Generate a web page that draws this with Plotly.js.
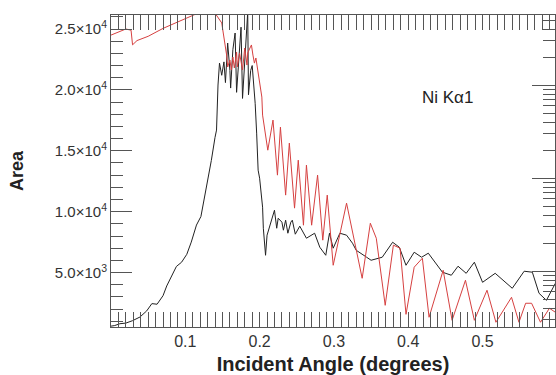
<!DOCTYPE html>
<html>
<head>
<meta charset="utf-8">
<script src="https://cdn.plot.ly/plotly-3.0.1.min.js"></script>
<style>html,body{margin:0;padding:0;background:#fff;}#chart{width:556px;height:375px;}</style>
</head>
<body>
<div id="chart"></div>
<script>
// Ni K-alpha1 fluorescence (black)
const fluorAngle = [0.000,0.005,0.012,0.020,0.029,0.039,0.048,0.055,0.062,0.070,0.075,0.083,0.088,0.095,0.102,0.108,0.115,0.121,0.126,0.130,0.135,0.140,0.142,
  0.144,0.146,0.149,0.152,0.154,0.157,0.160,0.161,0.164,0.167,0.169,0.172,0.175,0.177,0.180,0.183,0.184,0.185,0.188,0.190,0.194,0.196,
  0.198,0.200,0.204,0.205,0.208,0.210,0.213,0.218,0.220,0.223,0.225,0.230,0.232,0.235,0.238,0.242,0.244,0.248,0.254,0.263,0.274,0.281,0.289,0.294,0.299,
  0.308,0.317,0.325,0.330,0.344,0.350,0.365,0.379,0.388,0.397,0.408,0.418,0.427,0.446,0.458,0.467,0.478,0.489,0.500,0.517,0.540,0.556,0.567,0.576,0.586,0.598];
const fluorArea = [600,650,800,850,1050,1350,1850,2450,2400,3100,3900,4900,5500,5850,6500,7500,8900,9600,11200,12600,14200,16100,16700,
  20400,22200,21200,22300,20600,23850,21600,20150,23300,24670,19800,22450,25150,19300,22450,26000,26400,19600,21600,22000,18900,16450,
  13410,12750,10370,8640,6420,8070,8640,9710,10120,8640,9460,9140,8480,9300,8230,9140,9300,8150,8810,7820,8230,7080,6420,8230,7000,
  8230,8070,7410,6830,6260,6010,6260,7490,7080,5600,6670,6260,6590,5030,4780,5520,4940,5850,4200,4940,3710,5110,5030,3300,2720,4120];

// Reflectivity curve (red)
const reflAngle = [0.000,0.010,0.020,0.027,0.029,0.035,0.050,0.070,0.090,0.105,0.115,0.130,0.140,0.149,0.153,
  0.156,0.157,0.160,0.162,0.164,0.166,0.169,0.170,0.173,0.177,0.180,0.183,0.184,0.187,0.189,0.191,0.193,0.195,0.197,0.200,0.203,
  0.204,0.211,0.218,0.224,0.228,0.235,0.240,0.247,0.252,0.259,0.263,0.270,0.278,0.285,0.291,0.299,0.317,0.338,0.349,0.357,0.369,
  0.380,0.389,0.397,0.408,0.419,0.428,0.447,0.459,0.477,0.489,0.506,0.518,0.539,0.549,0.558,0.566,0.578,0.590,0.598];
const reflArea = [24500,24750,25000,24900,23700,24050,24400,25050,25600,26000,26250,26350,26300,25500,24100,
  22700,21880,22450,21630,22700,21800,23100,21880,23030,21630,23440,22040,23030,23440,23690,22860,22200,22620,21880,20810,19410,
  17930,15050,17520,13000,16940,11360,15630,10290,14230,8890,13820,8890,13000,7660,11360,5600,10700,4530,9050,7820,2310,
  7250,7000,1570,5440,6180,1330,5190,1080,4370,1080,3550,920,2970,920,2480,2480,920,2070,1740];

const xTickVals = [0.1,0.2,0.3,0.4,0.5];
const xTickText = ['0.1','0.2','0.3','0.4','0.5'];
const yTickVals = [5000,10000,15000,20000,25000];
const yTickText = ['5.0×10<sup>3</sup>','1.0×10<sup>4</sup>','1.5×10<sup>4</sup>','2.0×10<sup>4</sup>','2.5×10<sup>4</sup>'];
const y2TickVals = [10,100,1000];
const y2MinorVals = [3,4,5,6,7,8,9,20,30,40,50,60,70,80,90,200,300,400,500,600,700,800,900,2000,3000,4000,5000];

const axColor = '#555';
const fontFam = 'Liberation Sans, Arial, sans-serif';

const traces = [
  {x: fluorAngle, y: fluorArea, mode: 'lines', line: {color: '#222', width: 1}, hoverinfo: 'skip'},
  {x: reflAngle, y: reflArea, mode: 'lines', line: {color: '#d64040', width: 1}, hoverinfo: 'skip'},
  {x: [], y: [], yaxis: 'y2', mode: 'lines', hoverinfo: 'skip'}
];

const layout = {
  width: 556, height: 375,
  margin: {l: 111, r: 1, t: 15, b: 48, pad: 0},
  paper_bgcolor: '#fff', plot_bgcolor: '#fff',
  showlegend: false,
  font: {family: fontFam, color: '#333'},
  xaxis: {
    range: [0, 0.5975], showgrid: false, zeroline: false,
    showline: true, linecolor: axColor, linewidth: 1, mirror: 'allticks',
    tickmode: 'array', tickvals: xTickVals, ticktext: xTickText,
    ticks: 'inside', ticklen: 15, tickwidth: 1, tickcolor: axColor,
    minor: {dtick: 0.01, tick0: 0, ticks: 'inside', ticklen: 7, tickwidth: 1, tickcolor: axColor, showgrid: false},
    tickfont: {family: fontFam, size: 16, color: '#333'},
    title: {text: '<b>Incident Angle (degrees)</b>', font: {family: fontFam, size: 20, color: '#222'}, standoff: 7}
  },
  yaxis: {
    range: [530, 26150], showgrid: false, zeroline: false,
    showline: true, linecolor: axColor, linewidth: 1, mirror: false,
    tickmode: 'array', tickvals: yTickVals, ticktext: yTickText,
    ticks: 'inside', ticklen: 21, tickwidth: 1, tickcolor: axColor,
    minor: {dtick: 1000, tick0: 0, ticks: 'inside', ticklen: 12, tickwidth: 1, tickcolor: axColor, showgrid: false},
    tickfont: {family: fontFam, size: 15, color: '#333'},
    title: {text: '<b>Area</b>', font: {family: fontFam, size: 18, color: '#222'}, standoff: 26}
  },
  yaxis2: {
    type: 'log', overlaying: 'y', side: 'right',
    range: [0.398, 3.753], showgrid: false, zeroline: false,
    showline: true, linecolor: axColor, linewidth: 1,
    tickmode: 'array', tickvals: y2TickVals, showticklabels: false,
    ticks: 'inside', ticklen: 23, tickwidth: 1, tickcolor: axColor,
    minor: {tickmode: 'array', tickvals: y2MinorVals, ticks: 'inside', ticklen: 12, tickwidth: 1, tickcolor: axColor, showgrid: false}
  },
  annotations: [
    {x: 0.453, y: 19410, xref: 'x', yref: 'y', text: 'Ni Kα1', showarrow: false,
     font: {family: fontFam, size: 17, color: '#222'}}
  ]
};

Plotly.newPlot('chart', traces, layout, {staticPlot: true, displayModeBar: false});
</script>
</body>
</html>
